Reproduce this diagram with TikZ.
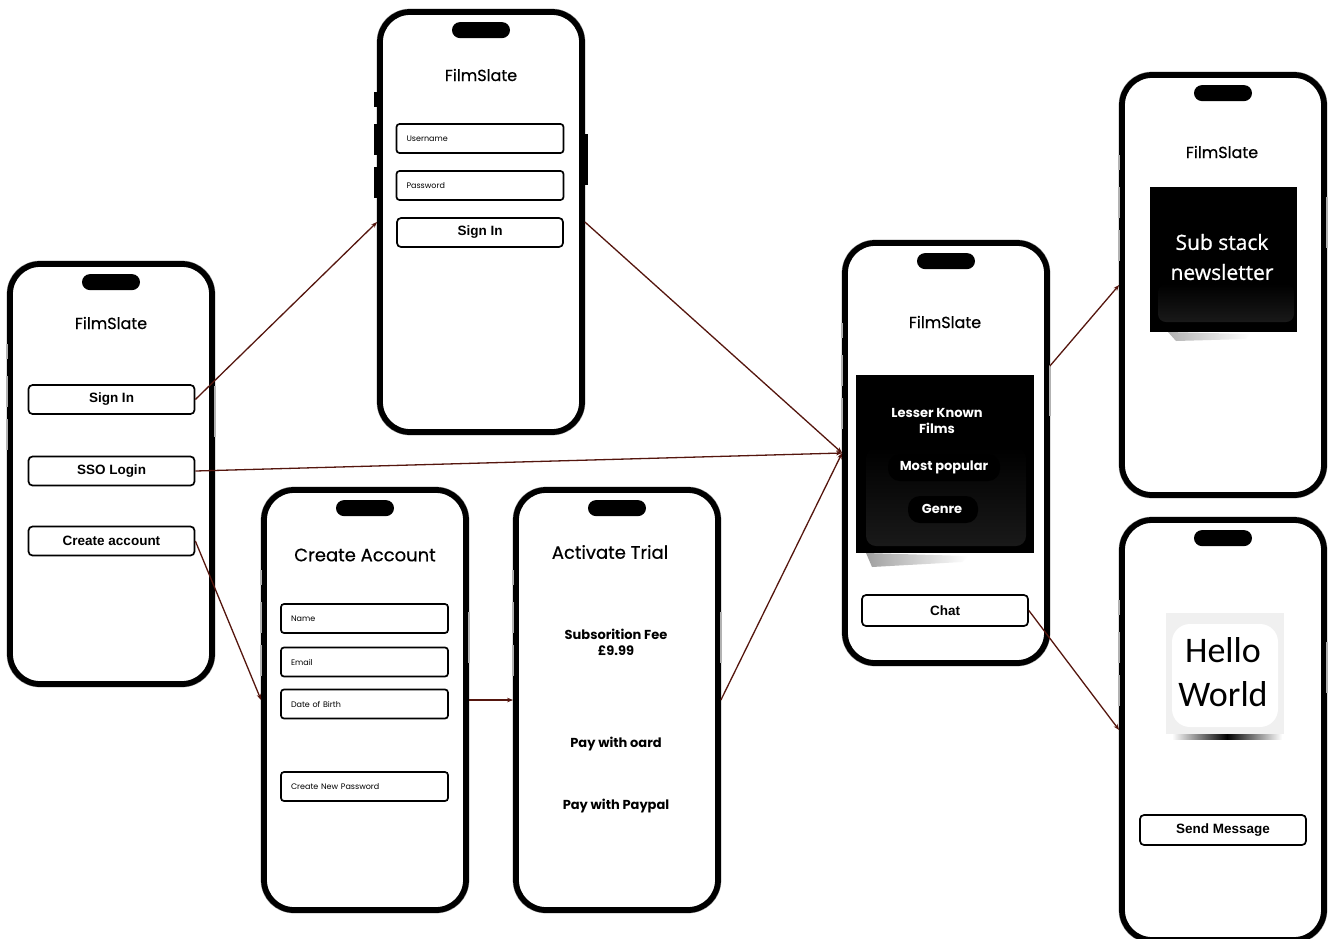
\documentclass[tikz,border=0pt]{standalone}
\usepackage{fontspec}
\setmainfont{Poppins}
\newfontfamily\brandfont[FakeBold=0.5]{Poppins}
\newfontfamily\btnfont{Liberation Sans}
\newfontfamily\subfont[FakeBold=0.8]{Open Sans}
\newfontfamily\hellofont{Carlito}
\usetikzlibrary{arrows.meta}

\definecolor{link}{RGB}{85,22,14}
\definecolor{shell}{gray}{0.62}

\tikzset{
  phone/.style={draw=black, line width=5.8pt, rounded corners=30pt, fill=white,
    minimum width=202pt, minimum height=420pt, inner sep=0pt},
  rim/.style={draw=shell, line width=0.7pt, rounded corners=33pt,
    minimum width=208pt, minimum height=426pt, inner sep=0pt},
  notch/.style={fill=black, rounded corners=8pt, minimum width=58pt,
    minimum height=16pt, inner sep=0pt},
  brand/.style={inner sep=0pt, font=\brandfont\fontsize{16}{18}\selectfont},
  heading/.style={inner sep=0pt, font=\brandfont\fontsize{18}{20}\selectfont},
  btn/.style={draw, line width=1.7pt, rounded corners=4pt, fill=white,
    minimum width=166pt, minimum height=29pt, inner sep=0pt,
    font=\btnfont\bfseries\fontsize{13.5}{15}\selectfont},
  field/.style={draw, line width=1.7pt, rounded corners=3pt, fill=white,
    minimum width=167pt, minimum height=29pt, text width=147pt, align=left,
    inner xsep=10pt, inner ysep=0pt, font=\fontsize{8}{9}\selectfont},
  info/.style={inner sep=0pt, align=center, font=\bfseries\fontsize{13}{16}\selectfont},
  menu/.style={inner sep=0pt, align=center, text=white,
    font=\bfseries\fontsize{13}{16}\selectfont},
  link/.style={draw=link, line width=1.3pt, -{Stealth[length=6pt,width=4.5pt]}},
  key/.style={fill=black!30},
}

% phone body with notch: name, centre
\newcommand\handset[3]{%
  \node[rim] (#1rim) at (#2,#3) {};
  \node[phone] (#1) at (#2,#3) {};
  \node[notch] (#1notch) at ([yshift=-21pt]#1.north) {};
}
% volume and power keys on the sides of a phone
\newcommand\sidekeys[3]{%
  \fill[#2] ([xshift=-#3,yshift=-83pt]#1.north west) rectangle ([xshift=1pt,yshift=-98pt]#1.north west);
  \fill[#2] ([xshift=-#3,yshift=-115pt]#1.north west) rectangle ([xshift=1pt,yshift=-146pt]#1.north west);
  \fill[#2] ([xshift=-#3,yshift=-158pt]#1.north west) rectangle ([xshift=1pt,yshift=-189pt]#1.north west);
  \fill[#2] ([xshift=-1pt,yshift=-125pt]#1.north east) rectangle ([xshift=#3,yshift=-176pt]#1.north east);
}

\begin{document}
\begin{tikzpicture}[x=1pt,y=-1pt]
\useasboundingbox[fill=white] (0,0) rectangle (1328,938);

% ---------- start screen ----------
\handset{start}{111}{474}
\sidekeys{start}{key}{1pt}
\node[brand] (startbrand) at (111,323) {FilmSlate};
\node[btn] (signin) at (111.5,399.5) {Sign In};
\node[btn] (sso) at (111.5,471) {SSO Login};
\node[btn] (create) at (111.5,541) {Create account};

% ---------- sign-in screen ----------
\handset{login}{481}{222}
\sidekeys{login}{black}{3pt}
\node[brand] (loginbrand) at (481,75) {FilmSlate};
\node[field] (user) at (480,138.5) {Username};
\node[field] (pass) at (480,185.5) {Password};
\node[btn] (loginbtn) at (480,232.5) {Sign In};

% ---------- registration screen ----------
\handset{register}{365}{700}
\sidekeys{register}{key}{1pt}
\node[heading] (regtitle) at (365,555) {Create Account};
\node[field] (name) at (364.5,618.5) {Name};
\node[field] (email) at (364.5,662) {Email};
\node[field] (dob) at (364.5,704) {Date of Birth};
\node[field] (newpass) at (364.5,786.5) {Create New Password};

% ---------- trial screen ----------
\handset{trial}{617}{700}
\sidekeys{trial}{key}{1pt}
\node[heading] (trialtitle) at (610,552) {Activate Trial};
\node[info] (fee) at (616,642) {Subsorition Fee\\£9.99};
\node[info] (card) at (616,744) {Pay with oard};
\node[info] (paypal) at (616,806) {Pay with Paypal};

% ---------- home screen ----------
\handset{home}{946}{453}
\sidekeys{home}{key}{1pt}
\node[brand] (homebrand) at (945,322) {FilmSlate};
\shade[left color=gray!75, right color=white] (866,553) -- (968,556) -- (962,562) -- (872,567) -- cycle;
\node[fill=black, minimum width=178pt, minimum height=178pt, inner sep=0pt] (films) at (945,464) {};
\shade[top color=black, bottom color=black!90, rounded corners=10pt] (866,448) rectangle (1026,546);
\fill[black, rounded corners=12pt] (888,454) rectangle (1000,481);
\fill[black, rounded corners=12pt] (908,496) rectangle (978,523);
\node[menu] (lesser) at (937,421) {Lesser Known\\Films};
\node[menu] (popular) at (944,467) {Most popular};
\node[menu] (genre) at (942,509) {Genre};
\node[btn, minimum height=31pt] (chat) at (945,610.5) {Chat};

% ---------- newsletter screen ----------
\handset{news}{1223}{285}
\sidekeys{news}{key}{1pt}
\node[brand] (newsbrand) at (1222,152) {FilmSlate};
\shade[left color=gray!60, right color=white] (1168,332) -- (1250,334) -- (1246,339) -- (1176,341) -- cycle;
\node[fill=black, minimum width=147pt, minimum height=145pt, inner sep=0pt] (sub) at (1223.5,259.5) {};
\shade[top color=black, bottom color=black!90, rounded corners=8pt] (1158,284) rectangle (1294,322);
\node[align=center, text=white, inner sep=0pt, font=\subfont\fontsize{21}{30}\selectfont] (subtext) at (1222,257) {Sub stack\\newsletter};

% ---------- chat screen ----------
\handset{talk}{1223}{730}
\sidekeys{talk}{key}{1pt}
\shade[left color=white, right color=white, middle color=black] (1172,729) rectangle (1282,739);
\node[fill=black!6, minimum width=118pt, minimum height=121pt, inner sep=0pt] (card2) at (1225,673.5) {};
\fill[white, rounded corners=18pt] (1172,624) rectangle (1278,727);
\node[align=center, inner sep=0pt, font=\hellofont\fontsize{36}{44}\selectfont] (hello) at (1223,672) {Hello\\World};
\node[btn, minimum height=30pt] (send) at (1223,830) {Send Message};

% ---------- navigation ----------
\draw[link] (signin.east) -- (login.west);
\draw[link] (sso.east) -- (home.west);
\draw[link] (create.east) -- (register.west);
\draw[link] (login.east) -- (home.west);
\draw[link] (register.east) -- (trial.west);
\draw[link] (trial.east) -- (home.west);
\draw[link] ([yshift=87pt]home.east) -- (news.west);
\draw[link] (chat.east) -- (talk.west);
\end{tikzpicture}
\end{document}
